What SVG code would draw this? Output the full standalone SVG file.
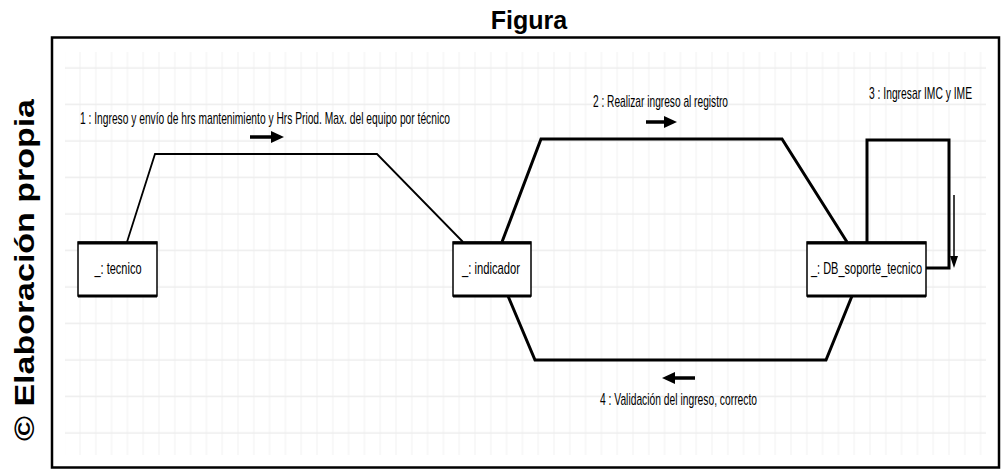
<svg xmlns="http://www.w3.org/2000/svg" width="1002" height="470" viewBox="0 0 1002 470">
<defs>
<pattern id="gv" x="72.1" y="0" width="15.8" height="20" patternUnits="userSpaceOnUse">
<line x1="7.9" y1="0" x2="7.9" y2="20" stroke="#f2f2f2" stroke-width="1"/>
</pattern>
<pattern id="gh" x="0" y="50" width="20" height="36.5" patternUnits="userSpaceOnUse">
<line x1="0" y1="18" x2="20" y2="18" stroke="#ededed" stroke-width="1.5"/>
</pattern>
</defs>
<style>
.lbl{font-family:"Liberation Sans",Arial,sans-serif;font-size:17px;fill:#000}
.node rect{fill:#fff;stroke:#000;stroke-width:1.5}
.node line{stroke:#000;stroke-width:3}
.conn{fill:none;stroke:#000;stroke-linejoin:miter}
.arr{stroke:#000;stroke-width:3.5;fill:none}
.head{fill:#000}
</style>
<rect x="0" y="0" width="1002" height="470" fill="#fff"/>
<text x="529" y="29" text-anchor="middle" font-family="'Liberation Sans',Arial,sans-serif" font-weight="bold" font-size="25">Figura</text>
<text transform="translate(34,270) rotate(-90)" text-anchor="middle" font-family="'Liberation Sans',Arial,sans-serif" font-weight="bold" font-size="27" textLength="342" lengthAdjust="spacingAndGlyphs">© Elaboración propia</text>
<g id="grid">
<rect x="65" y="52" width="925" height="403" fill="url(#gv)"/>
<rect x="65" y="52" width="921" height="400" fill="url(#gh)"/>
</g>
<rect x="52" y="37.5" width="947" height="430" fill="none" stroke="#000" stroke-width="2.5"/>
<g id="connectors">
<path class="conn" stroke-width="1.8" d="M127,242 L155,154 H377 L463,242"/>
<path class="conn" stroke-width="3" d="M502,242 L541,139 H782 L847,242"/>
<path class="conn" stroke-width="3" d="M867,242 V140 H949 V268 H926"/>
<path class="conn" stroke-width="3" d="M508,296 L535,360 H826 L852,296"/>
<line class="arr" x1="250" y1="137" x2="273" y2="137"/><path class="head" d="M271,131 L284,137 L271,143 Z"/>
<line class="arr" x1="646" y1="122" x2="666" y2="122"/><path class="head" d="M664,116 L677,122 L664,128 Z"/>
<line stroke="#000" stroke-width="1.5" x1="954" y1="195" x2="954" y2="258"/><path class="head" d="M950,256 L954,268 L958,256 Z"/>
<line class="arr" x1="695" y1="378" x2="673" y2="378"/><path class="head" d="M675,372 L662,378 L675,384 Z"/>
<text class="lbl" x="80" y="124" textLength="370" lengthAdjust="spacingAndGlyphs">1 : Ingreso y envío de hrs mantenimiento y Hrs Priod. Max. del equipo por técnico</text>
<text class="lbl" x="593" y="107" textLength="135" lengthAdjust="spacingAndGlyphs">2 : Realizar ingreso al registro</text>
<text class="lbl" x="869" y="99" textLength="103" lengthAdjust="spacingAndGlyphs">3 : Ingresar IMC y IME</text>
<text class="lbl" x="600" y="405" textLength="157" lengthAdjust="spacingAndGlyphs">4 : Validación del ingreso, correcto</text>
</g>
<g id="tecnico" class="node">
<rect x="78" y="242" width="79" height="54"/>
<line x1="78" y1="243" x2="157" y2="243"/><line x1="78" y1="296" x2="157" y2="296"/>
<text class="lbl" x="118" y="274" text-anchor="middle" textLength="47" lengthAdjust="spacingAndGlyphs">_: tecnico</text>
</g>
<g id="indicador" class="node">
<rect x="453" y="242" width="78" height="54"/>
<line x1="453" y1="243" x2="531" y2="243"/><line x1="453" y1="296" x2="531" y2="296"/>
<text class="lbl" x="491" y="274" text-anchor="middle" textLength="58" lengthAdjust="spacingAndGlyphs">_: indicador</text>
</g>
<g id="db_soporte_tecnico" class="node">
<rect x="807" y="242" width="119" height="54"/>
<line x1="807" y1="243" x2="926" y2="243"/><line x1="807" y1="296" x2="926" y2="296"/>
<text class="lbl" x="866.5" y="274" text-anchor="middle" textLength="111" lengthAdjust="spacingAndGlyphs">_: DB_soporte_tecnico</text>
</g>
</svg>
